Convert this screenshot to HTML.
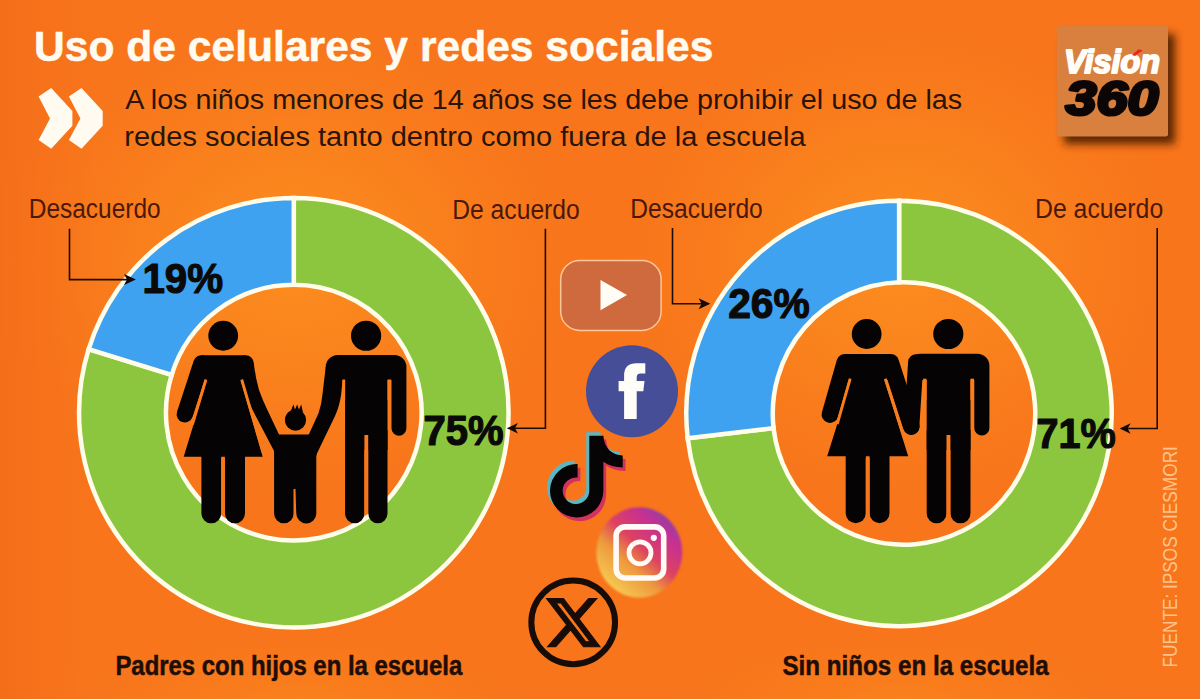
<!DOCTYPE html>
<html lang="es">
<head>
<meta charset="utf-8">
<title>Uso de celulares y redes sociales</title>
<style>
  html, body { margin: 0; padding: 0; background: #f8751b; }
  body { width: 1200px; height: 699px; overflow: hidden; font-family: "Liberation Sans", sans-serif; }
  svg { display: block; }
  text { font-family: "Liberation Sans", sans-serif; }
  .b { font-weight: bold; }
</style>
</head>
<body>
<svg width="1200" height="699" viewBox="0 0 1200 699">
  <defs>
    <radialGradient id="spotL" gradientUnits="userSpaceOnUse" cx="0" cy="0" r="1" gradientTransform="translate(295 262) scale(320 275)">
      <stop offset="0" stop-color="#fc9020" stop-opacity="0.9"/>
      <stop offset="0.4" stop-color="#fb8a1e" stop-opacity="0.62"/>
      <stop offset="0.75" stop-color="#fa821d" stop-opacity="0.2"/>
      <stop offset="1" stop-color="#f8751b" stop-opacity="0"/>
    </radialGradient>
    <radialGradient id="spotR" gradientUnits="userSpaceOnUse" cx="0" cy="0" r="1" gradientTransform="translate(900 262) scale(320 275)">
      <stop offset="0" stop-color="#fc9020" stop-opacity="0.9"/>
      <stop offset="0.4" stop-color="#fb8a1e" stop-opacity="0.62"/>
      <stop offset="0.75" stop-color="#fa821d" stop-opacity="0.2"/>
      <stop offset="1" stop-color="#f8751b" stop-opacity="0"/>
    </radialGradient>
    <radialGradient id="glowL" gradientUnits="userSpaceOnUse" cx="0" cy="0" r="1" gradientTransform="translate(300 705) scale(300 95)">
      <stop offset="0" stop-color="#fb861d" stop-opacity="0.75"/>
      <stop offset="1" stop-color="#f8751b" stop-opacity="0"/>
    </radialGradient>
    <radialGradient id="glowR" gradientUnits="userSpaceOnUse" cx="0" cy="0" r="1" gradientTransform="translate(900 705) scale(300 95)">
      <stop offset="0" stop-color="#fb861d" stop-opacity="0.75"/>
      <stop offset="1" stop-color="#f8751b" stop-opacity="0"/>
    </radialGradient>
    <linearGradient id="edge" x1="0" y1="0" x2="1" y2="0">
      <stop offset="0" stop-color="#f26a1a" stop-opacity="0.6"/>
      <stop offset="0.08" stop-color="#f26a1a" stop-opacity="0"/>
      <stop offset="1" stop-color="#f26a1a" stop-opacity="0"/>
    </linearGradient>
  </defs>
  <rect width="1200" height="699" fill="#f8751b"/>
  <rect width="1200" height="699" fill="url(#spotL)"/>
  <rect width="1200" height="699" fill="url(#spotR)"/>
  <rect y="580" width="1200" height="119" fill="url(#glowL)"/>
  <rect y="580" width="1200" height="119" fill="url(#glowR)"/>
  <rect width="1200" height="699" fill="url(#edge)"/>

  <!-- ===== TITLE ===== -->
  <text class="b" x="34" y="61" font-size="43" fill="#fffbf0" stroke="#fffbf0" stroke-width="0.5" textLength="679.5" lengthAdjust="spacingAndGlyphs">Uso de celulares y redes sociales</text>

  <!-- chevrons -->
  <g id="chevrons" fill="#fffbf0">
    <path d="M38.6 96.6L51.2 88L72.4 110.9V125.8L51.2 148.7L38.6 140.1L50 118.4Z"/>
    <path d="M68.9 96.6L81.5 88L102.7 110.9V125.8L81.5 148.7L68.9 140.1L80.4 118.4Z"/>
  </g>

  <!-- subtitle -->
  <text x="125.2" y="109" font-size="27" fill="#2a1408" textLength="837" lengthAdjust="spacingAndGlyphs">A los niños menores de 14 años se les debe prohibir el uso de las</text>
  <text x="124.3" y="145.6" font-size="27" fill="#2a1408" textLength="681.3" lengthAdjust="spacingAndGlyphs">redes sociales tanto dentro como fuera de la escuela</text>

  <!-- ===== LEFT DONUT ===== -->
  <g id="donutL" stroke="#fffce9" stroke-width="4.5" stroke-linejoin="miter">
    <path fill="#8cc63e" d="M88.65 349.20A214.75 214.75 0 1 0 293.80 197.95L293.80 284.85A127.85 127.85 0 1 1 171.67 374.89Z"/>
    <path fill="#3fa2f1" d="M293.80 197.95A214.75 214.75 0 0 0 88.65 349.20L171.67 374.89A127.85 127.85 0 0 1 293.80 284.85Z"/>
  </g>

  <!-- ===== RIGHT DONUT ===== -->
  <g id="donutR" stroke="#fffce9" stroke-width="4.5" stroke-linejoin="miter">
    <path fill="#8cc63e" d="M687.70 438.22A212.75 212.75 0 1 0 899.10 200.65L899.10 282.24A131.25 131.25 0 1 1 773.58 428.13Z"/>
    <path fill="#3fa2f1" d="M899.10 200.65A212.75 212.75 0 0 0 687.70 438.22L773.58 428.13A131.25 131.25 0 0 1 899.10 282.24Z"/>
  </g>

  <!-- ===== LABELS ===== -->
  <g font-size="27" fill="#4a190a">
    <text x="28.8" y="218.1" textLength="131.8" lengthAdjust="spacingAndGlyphs">Desacuerdo</text>
    <text x="452.2" y="219" textLength="127.6" lengthAdjust="spacingAndGlyphs">De acuerdo</text>
    <text x="630.3" y="218.2" textLength="132.5" lengthAdjust="spacingAndGlyphs">Desacuerdo</text>
    <text x="1035" y="218.4" textLength="128.2" lengthAdjust="spacingAndGlyphs">De acuerdo</text>
  </g>

  <!-- leader lines -->
  <g id="leaders" fill="none" stroke="#1c0c08" stroke-width="1.6">
    <path d="M69.5 228.7V279.6H128"/>
    <path d="M545.4 228.7V428.3H514"/>
    <path d="M672.5 228.1V303.7H702"/>
    <path d="M1157.2 228V428.5H1127"/>
  </g>
  <g id="arrows" fill="#120806">
    <path d="M135.9 279.6L124 274.1L127 279.6L124 285.1Z"/>
    <path d="M506.8 428.3L517.9 423L515 428.3L517.9 433.6Z"/>
    <path d="M710.3 303.7L698.6 298.2L701.6 303.7L698.6 309.2Z"/>
    <path d="M1119.7 428.5L1130.6 423.2L1127.6 428.5L1130.6 433.8Z"/>
  </g>

  <!-- percentages -->
  <g class="b" font-size="43" fill="#0b0a08" stroke="#0b0a08" stroke-width="1.2" stroke-linejoin="round">
    <text x="142.4" y="292.6" textLength="80.8" lengthAdjust="spacingAndGlyphs">19%</text>
    <text x="423.4" y="445.2" textLength="80.2" lengthAdjust="spacingAndGlyphs">75%</text>
    <text x="728.2" y="318.1" textLength="81.6" lengthAdjust="spacingAndGlyphs">26%</text>
    <text x="1036.5" y="447.8" textLength="79.3" lengthAdjust="spacingAndGlyphs">71%</text>
  </g>

  <!-- captions -->
  <g class="b" font-size="27" fill="#1f0d07" stroke="#1f0d07" stroke-width="0.5">
    <text x="115.4" y="675" textLength="346.8" lengthAdjust="spacingAndGlyphs">Padres con hijos en la escuela</text>
    <text x="782.4" y="675" textLength="266.2" lengthAdjust="spacingAndGlyphs">Sin niños en la escuela</text>
  </g>

  <!-- source -->
  <text transform="translate(1176.9 667.6) rotate(-90)" font-size="21" fill="#fcc48c" textLength="221.5" lengthAdjust="spacingAndGlyphs">FUENTE: IPSOS CIESMORI</text>

  <!-- FIGURES_LEFT -->
  <mask id="mL" maskUnits="userSpaceOnUse" x="160" y="300" width="280" height="240">
    <rect x="160" y="300" width="280" height="240" fill="#fff"/>
    <g stroke="#000" stroke-width="2.8" fill="none" stroke-linecap="butt">
      <path d="M205.9 379.5L192.4 424.5"/>
      <path d="M241.7 379.5L263 452"/>
      <path d="M343.8 379.5V400"/>
      <path d="M389.3 379.5V400" stroke-width="3.4"/>
      <path d="M223.05 458V530" stroke-width="3.7"/>
      <path d="M366.3 435V530" stroke-width="3.8"/>
      <path d="M294.5 489V530" stroke-width="1.6"/>
    </g>
  </mask>
  <g id="figL" mask="url(#mL)" fill="#050303" stroke="#050303">
    <!-- woman -->
    <circle cx="223.2" cy="335.75" r="14.9" stroke="none"/>
    <path d="M201.5 363.4L184.8 414.2" stroke-width="16.4" stroke-linecap="round" fill="none"/>
    <circle cx="245.6" cy="363.6" r="8.3" stroke="none"/>
    <path d="M253.9 364Q255.5 378 259 390Q262.5 400 267.4 410L279 434.5L282 441L275 453L273 449L252.6 410Q247.5 399 244 390L241.3 379L240 364Z" stroke="none"/>
    <path d="M201 355.2H246L253 381H240.8L262.7 456.7H183.7L206.8 381H195Z" stroke="none"/>
    <path d="M201.4 450H221.2V513.4A9.9 9.9 0 0 1 201.4 513.4Z" stroke="none"/>
    <path d="M224.9 450H245V513.3A10.05 10.05 0 0 1 224.9 513.3Z" stroke="none"/>
    <!-- man -->
    <circle cx="366.1" cy="335.75" r="15.1" stroke="none"/>
    <path d="M325.75 380V367A12 12 0 0 1 337.75 355H394.4A12 12 0 0 1 406.4 367V428.3A7.45 7.45 0 0 1 391.5 428.3V380Z" stroke="none"/>
    <path d="M325.75 366.7L322.3 395.8Q321.6 404 318.6 413L309.4 433.2L306 440L315.8 457L317.2 452.9L335 416Q339.6 406 341.2 394L342.6 379.5V364Z" stroke="none"/>
    <path d="M345 360H387.5V513.6A9.65 9.65 0 0 1 368.2 513.6V440H364.4V513.6A9.7 9.7 0 0 1 345 513.6Z" stroke="none"/>
    <rect x="345" y="430" width="42.5" height="20" stroke="none"/>
    <!-- child -->
    <circle cx="295.5" cy="420.1" r="10.6" stroke="none"/>
    <path d="M290.4 412L293.4 404.5L295 409.4L297.2 404.6L298.9 409.6L301.2 404.5L302.9 412Z" stroke="none"/>
    <path d="M278.5 434.5H310.5L316.3 450V513.5A10 10 0 0 1 296.3 513.5L295.3 489H293.7V513.5A9.8 9.8 0 0 1 274.1 513.5V448Z" stroke="none"/>
  </g>
  <!-- FIGURES_RIGHT -->
  <mask id="mR" maskUnits="userSpaceOnUse" x="800" y="300" width="240" height="240">
    <rect x="800" y="300" width="240" height="240" fill="#fff"/>
    <g stroke="#000" stroke-width="2.8" fill="none" stroke-linecap="butt">
      <path d="M850.2 378.7L837.3 424"/>
      <path d="M885.3 378.7L904 437"/>
      <path d="M924.8 378.7V400" stroke-width="3.4"/>
      <path d="M972.2 378.7V400" stroke-width="3.6"/>
      <path d="M867.7 458V530" stroke-width="3.8"/>
      <path d="M948.45 435V530" stroke-width="3.9"/>
    </g>
  </mask>
  <g id="figR" mask="url(#mR)" fill="#050303" stroke="#050303">
    <!-- woman -->
    <circle cx="866.65" cy="334" r="14.9" stroke="none"/>
    <path d="M844.9 362.3L830 414.5" stroke-width="16.8" stroke-linecap="round" fill="none"/>
    <path d="M890.6 362.3L911.3 426.5" stroke-width="16.8" stroke-linecap="round" fill="none"/>
    <path d="M845 353.9H890L897 380H884.4L908.2 456.3H827.2L851 380H839Z" stroke="none"/>
    <path d="M845.7 450H865.8V513.2A10.05 10.05 0 0 1 845.7 513.2Z" stroke="none"/>
    <path d="M869.6 450H889.5V513.3A9.95 9.95 0 0 1 869.6 513.3Z" stroke="none"/>
    <!-- man -->
    <circle cx="948.3" cy="334" r="15.1" stroke="none"/>
    <path d="M908.3 380V365.8A12 12 0 0 1 920.3 353.8H977.4A12 12 0 0 1 989.4 365.8V427.9A7.55 7.55 0 0 1 974.3 427.9V380Z" stroke="none"/>
    <path d="M915.8 362L911.6 426.8" stroke-width="15.4" stroke-linecap="round" fill="none"/>
    <path d="M926.7 358H970.5V513.3A10.05 10.05 0 0 1 950.4 513.3V440H946.5V513.4A9.9 9.9 0 0 1 926.7 513.4Z" stroke="none"/>
    <rect x="926.7" y="430" width="43.8" height="20" stroke="none"/>
  </g>
  <!-- ICONS -->
  <defs>
    <linearGradient id="ig" gradientUnits="userSpaceOnUse" x1="606" y1="588" x2="670" y2="516">
      <stop offset="0" stop-color="#f7cf55"/>
      <stop offset="0.34" stop-color="#ee9a3c"/>
      <stop offset="0.56" stop-color="#de4260"/>
      <stop offset="0.82" stop-color="#c72f92"/>
      <stop offset="1" stop-color="#8c42a8"/>
    </linearGradient>
    <filter id="igblur" x="-10%" y="-10%" width="120%" height="120%"><feGaussianBlur stdDeviation="1.2"/></filter>
  </defs>
  <!-- youtube -->
  <rect x="560.7" y="260.4" width="100.4" height="70" rx="19" ry="19" fill="#cf6a3f" stroke="#fdc79a" stroke-width="1.5"/>
  <path d="M600.5 279.9L627 295.1L600.5 310.3Z" fill="#fffdf6"/>
  <!-- facebook -->
  <circle cx="632" cy="391.2" r="46" fill="#464e97"/>
  <path d="M624.1 419.1V391.3H618.6V381.1H624.1V375.5Q624.1 363.3 636.5 363.3H645.3V373.5H640.5Q636.7 373.5 636.7 377.5V381.1H644.5L643.3 391.3H636.7V419.1Z" fill="#fffdf8"/>
  <!-- tiktok -->
  <path d="M589.3 435.7H603.4C604 448 612 455.2 622.7 455.4V467.4C615.5 467.3 608.5 465.3 603.4 461.7V490.8A26.7 26.7 0 1 1 577.6 464.1V477.5A13.3 13.3 0 1 0 589.3 490.8Z" fill="#5cb7c5" transform="translate(-3 -3.4)"/>
  <path d="M589.3 435.7H603.4C604 448 612 455.2 622.7 455.4V467.4C615.5 467.3 608.5 465.3 603.4 461.7V490.8A26.7 26.7 0 1 1 577.6 464.1V477.5A13.3 13.3 0 1 0 589.3 490.8Z" fill="#d2335e" transform="translate(2.8 3.7)"/>
  <path d="M589.3 435.7H603.4C604 448 612 455.2 622.7 455.4V467.4C615.5 467.3 608.5 465.3 603.4 461.7V490.8A26.7 26.7 0 1 1 577.6 464.1V477.5A13.3 13.3 0 1 0 589.3 490.8Z" fill="#070405"/>
  <!-- instagram -->
  <ellipse cx="639.3" cy="552.4" rx="43" ry="45.2" fill="url(#ig)" filter="url(#igblur)"/>
  <rect x="616.1" y="526.9" width="47.6" height="51.1" rx="9" ry="9" fill="none" stroke="#fffaf5" stroke-width="5.6"/>
  <circle cx="640" cy="552.8" r="11" fill="none" stroke="#fffaf5" stroke-width="4.8"/>
  <circle cx="653.8" cy="537.8" r="3.1" fill="#fffaf5"/>
  <!-- x -->
  <circle cx="573.2" cy="622.4" r="41.85" fill="none" stroke="#170c08" stroke-width="6"/>
  <path transform="translate(543.39 592.82) scale(2.48)" fill="#170c08" stroke="#170c08" stroke-width="0.42" stroke-linejoin="miter" d="M18.244 2.25h3.308l-7.227 8.26 8.502 11.24H16.17l-5.214-6.817L4.99 21.75H1.68l7.73-8.835L1.254 2.25H8.08l4.713 6.231zm-1.161 17.52h1.833L7.084 4.126H5.117z"/>
  <!-- LOGO -->
  <defs>
    <filter id="lsh" x="-30%" y="-30%" width="170%" height="170%"><feGaussianBlur stdDeviation="4.5"/></filter>
  </defs>
  <rect x="1064" y="34" width="111" height="110" fill="#4a1c04" opacity="0.9" filter="url(#lsh)"/>
  <rect x="1056.8" y="26.1" width="111.2" height="110.5" rx="2" fill="#d9803e"/>
  <text x="1064" y="73" font-size="33" font-weight="bold" font-style="italic" fill="#fffdf8" stroke="#fffdf8" stroke-width="2" stroke-linejoin="round" textLength="96" lengthAdjust="spacingAndGlyphs">Vision</text>
  <path d="M1132 55L1138.5 49.3L1142.8 50.6L1135 56Z" fill="#e8281c"/>
  <text x="1065.6" y="114.6" font-size="48" font-weight="bold" font-style="italic" fill="#0c0706" stroke="#0c0706" stroke-width="3.2" stroke-linejoin="round" textLength="93" lengthAdjust="spacingAndGlyphs">360</text>
</svg>
</body>
</html>
